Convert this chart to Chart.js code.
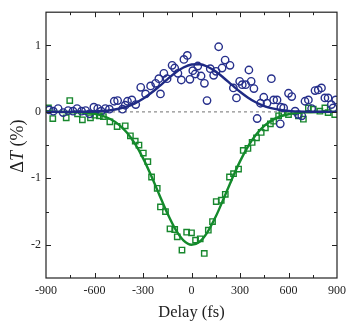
<!DOCTYPE html>
<html><head><meta charset="utf-8">
<script src="https://cdn.jsdelivr.net/npm/chart.js@4/dist/chart.umd.min.js"></script>
<style>html,body{margin:0;padding:0;background:#fff;overflow:hidden}</style>
</head><body>
<canvas id="c" width="352" height="328"></canvas>
<script>
// ---- data ----
const blueDelay = [-880,-855,-825,-794,-763,-733,-708,-680,-655,-631,-604,-580,-559,-533,-508,-478,-457,-427,-410,-396,-369,-345,-314,-284,-253,-222,-202,-192,-171,-151,-120,-104,-84,-63,-47,-26,-10,8,23,39,59,80,96,116,137,152,168,189,208,238,259,278,298,314,335,355,369,386,406,427,447,467,494,508,529,549,553,570,600,620,641,661,682,702,723,743,764,784,804,825,845,865,876,892];
const blueSignal = [0.03,0.01,0.05,-0.01,0.02,0.01,0.05,0.01,0.02,-0.03,0.07,0.05,0.01,0.05,0.04,0.16,0.17,0.04,0.10,0.16,0.18,0.11,0.37,0.27,0.39,0.43,0.50,0.27,0.58,0.50,0.70,0.66,0.58,0.48,0.79,0.85,0.49,0.62,0.57,0.69,0.54,0.43,0.17,0.65,0.55,0.61,0.98,0.66,0.78,0.70,0.36,0.21,0.46,0.41,0.41,0.63,0.46,0.35,-0.10,0.13,0.22,0.13,0.50,0.18,0.18,-0.18,0.07,0.06,0.28,0.23,0.01,-0.04,-0.06,0.16,0.18,0.05,0.32,0.33,0.36,0.21,0.21,0.11,0.06,0.18];
const greenDelay = [-885,-858,-775,-753,-705,-675,-625,-598,-570,-545,-505,-460,-410,-378,-348,-325,-298,-270,-247,-212,-192,-161,-133,-104,-88,-59,-30,0,25,54,79,104,130,153,184,209,235,260,291,320,349,375,402,431,457,488,508,539,559,600,661,692,723,753,794,825,845,886];
const greenSignal = [0.06,-0.10,-0.09,0.17,-0.03,-0.12,-0.09,-0.05,-0.06,-0.07,-0.15,-0.22,-0.21,-0.36,-0.44,-0.50,-0.62,-0.75,-0.98,-1.15,-1.43,-1.50,-1.76,-1.77,-1.88,-2.08,-1.81,-1.82,-1.93,-1.91,-2.13,-1.78,-1.65,-1.35,-1.33,-1.24,-0.98,-0.93,-0.86,-0.58,-0.55,-0.46,-0.39,-0.31,-0.24,-0.18,-0.14,-0.06,-0.01,-0.04,-0.06,-0.11,0.06,0.04,0.01,0.06,-0.01,-0.04];
const fitDelay = [-900,-800,-700,-600,-550,-500,-450,-400,-350,-300,-250,-200,-150,-100,-50,0,50,100,150,200,250,300,350,400,450,500,550,600,700,800,900];
const blueFit = [0,0,0.001,0.006,0.013,0.025,0.047,0.08,0.129,0.197,0.283,0.384,0.49,0.589,0.667,0.712,0.717,0.679,0.607,0.51,0.405,0.302,0.213,0.141,0.088,0.052,0.029,0.015,0.004,0.001,0];
const greenFit = [0,-0.001,-0.007,-0.031,-0.061,-0.111,-0.191,-0.311,-0.479,-0.696,-0.957,-1.242,-1.523,-1.765,-1.933,-2.0,-1.955,-1.805,-1.576,-1.30,-1.013,-0.745,-0.519,-0.341,-0.212,-0.124,-0.069,-0.036,-0.008,-0.001,0];
const xTickLabels = [-900,-600,-300,0,300,600,900];
const yTickLabels = [-2,-1,0,1];
const xRange = [-900, 900];
const yRange = [-2.5, 1.5];

const toXY = (xs, ys) => xs.map((x, i) => ({x: x, y: ys[i]}));

const BLUE = '#27308c';
const GREEN = '#17872d';
const SERIF = "'Liberation Serif', 'DejaVu Serif', serif";

const framePlugin = {
  id: 'frame',
  afterDraw(chart) {
    const {ctx, chartArea: a, scales} = chart;
    const xs = scales.x, ys = scales.y;
    ctx.save();
    ctx.strokeStyle = '#222';
    ctx.lineWidth = 1.2;
    ctx.strokeRect(a.left, a.top, a.right - a.left, a.bottom - a.top);
    ctx.lineWidth = 1;
    xs.ticks.forEach(t => {
      const v = t.value;
      if (v <= xRange[0] || v >= xRange[1]) return;
      const p = Math.round(xs.getPixelForValue(v)) + 0.5;
      const major = xTickLabels.includes(v);
      const L = major ? 5 : 3;
      ctx.beginPath();
      ctx.moveTo(p, a.bottom); ctx.lineTo(p, a.bottom - L);
      ctx.moveTo(p, a.top); ctx.lineTo(p, a.top + L);
      ctx.stroke();
    });
    ys.ticks.forEach(t => {
      const v = t.value;
      if (v <= yRange[0] || v >= yRange[1]) return;
      const p = Math.round(ys.getPixelForValue(v)) + 0.5;
      const major = yTickLabels.includes(v);
      const L = major ? 5 : 3;
      ctx.beginPath();
      ctx.moveTo(a.left, p); ctx.lineTo(a.left + L, p);
      ctx.moveTo(a.right, p); ctx.lineTo(a.right - L, p);
      ctx.stroke();
    });
    // y-axis title with italic T
    const parts = [['Δ', 'normal'], ['T', 'italic'], [' (%)', 'normal']];
    const size = 18;
    let total = 0;
    const widths = parts.map(([s, st]) => { ctx.font = st + ' ' + size + 'px ' + SERIF; const w = ctx.measureText(s).width; total += w; return w; });
    ctx.translate(18, (a.top + a.bottom) / 2 + 1);
    ctx.rotate(-Math.PI / 2);
    ctx.fillStyle = '#222';
    ctx.textBaseline = 'middle';
    ctx.textAlign = 'left';
    let x = -total / 2;
    parts.forEach(([s, st], i) => { ctx.font = st + ' ' + size + 'px ' + SERIF; ctx.fillText(s, x, 0); x += widths[i]; });
    ctx.restore();
  }
};

new Chart(document.getElementById('c'), {
  type: 'scatter',
  data: {
    datasets: [
      {
        label: 'zero',
        type: 'line',
        data: toXY(xRange, [0, 0]),
        borderColor: '#8a8a8a',
        borderWidth: 1.2,
        borderDash: [3, 3],
        pointRadius: 0,
        order: 5
      },
      {
        label: 'blue data',
        data: toXY(blueDelay, blueSignal),
        pointStyle: 'circle',
        pointRadius: 3.7,
        pointBorderWidth: 1.4,
        pointBackgroundColor: 'rgba(255,255,255,0)',
        pointBorderColor: BLUE,
        order: 3
      },
      {
        label: 'green data',
        data: toXY(greenDelay, greenSignal),
        pointStyle: 'rect',
        pointRadius: 3.8,
        pointBorderWidth: 1.4,
        pointBackgroundColor: 'rgba(255,255,255,0)',
        pointBorderColor: GREEN,
        order: 4
      },
      {
        label: 'blue fit',
        type: 'line',
        data: toXY(fitDelay, blueFit),
        borderColor: '#1f2a84',
        borderWidth: 2.4,
        pointRadius: 0,
        cubicInterpolationMode: 'monotone',
        order: 1
      },
      {
        label: 'green fit',
        type: 'line',
        data: toXY(fitDelay, greenFit),
        borderColor: '#138a2b',
        borderWidth: 2.4,
        pointRadius: 0,
        cubicInterpolationMode: 'monotone',
        order: 2
      }
    ]
  },
  options: {
    responsive: false,
    animation: false,
    devicePixelRatio: 1,
    layout: {padding: {left: 0, right: 12, top: 10, bottom: 0}},
    plugins: {legend: {display: false}, tooltip: {enabled: false}},
    scales: {
      x: {
        type: 'linear',
        min: xRange[0], max: xRange[1],
        grid: {display: false, drawTicks: false},
        border: {display: false},
        ticks: {
          stepSize: 150,
          autoSkip: false,
          maxRotation: 0,
          padding: 6,
          color: '#222',
          font: {family: SERIF, size: 12},
          callback: v => xTickLabels.includes(v) ? String(v) : ''
        },
        title: {
          display: true,
          text: 'Delay (fs)',
          color: '#222',
          font: {family: SERIF, size: 16.5},
          padding: {top: 0, bottom: 5}
        },
        afterFit: s => { s.height = 50; }
      },
      y: {
        type: 'linear',
        min: yRange[0], max: yRange[1],
        grid: {display: false, drawTicks: false},
        border: {display: false},
        ticks: {
          stepSize: 0.5,
          autoSkip: false,
          padding: 5,
          color: '#222',
          font: {family: SERIF, size: 12},
          callback: v => yTickLabels.includes(v) ? String(v) : ''
        },
        afterFit: s => { s.width = 46; }
      }
    }
  },
  plugins: [framePlugin]
});
</script>
</body></html>
